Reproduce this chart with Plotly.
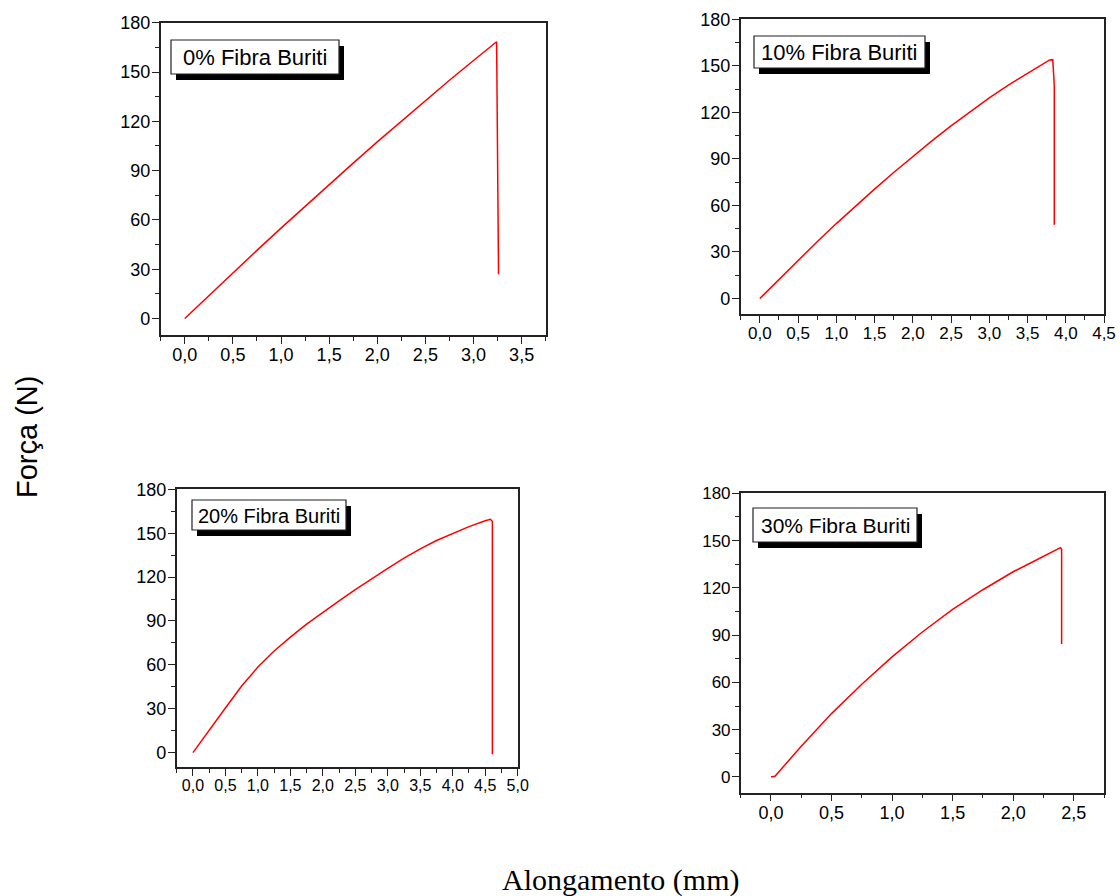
import plotly.graph_objects as go

# Load-elongation curves for composites with different buriti fibre content
fibra0_x = [0.0, 0.25, 0.5, 0.75, 1.0, 1.25, 1.5, 1.75, 2.0, 2.25, 2.5, 2.75, 3.0, 3.12, 3.24, 3.26]
fibra0_y = [0.0, 14.0, 27.8, 41.5, 55.0, 68.3, 81.5, 94.6, 107.5, 120.2, 132.8, 145.0, 157.0, 162.8, 168.4, 27.0]

fibra10_x = [0.0, 0.25, 0.5, 0.75, 1.0, 1.25, 1.5, 1.75, 2.0, 2.25, 2.5, 2.75, 3.0, 3.25,
             3.5, 3.67, 3.79, 3.83, 3.85, 3.85]
fibra10_y = [0.0, 12.4, 24.6, 36.6, 48.3, 59.5, 70.5, 81.2, 91.6, 101.6, 111.3, 120.6, 129.4, 137.6,
             145.0, 150.0, 153.8, 154.0, 137.0, 47.6]

fibra20_x = [0.0, 0.25, 0.5, 0.75, 1.0, 1.25, 1.5, 1.75, 2.0, 2.25, 2.5, 2.75, 3.0, 3.25,
             3.5, 3.75, 4.0, 4.25, 4.5, 4.58, 4.61, 4.61]
fibra20_y = [0.0, 15.5, 30.5, 45.5, 58.5, 69.5, 79.0, 87.8, 96.0, 103.8, 111.5, 119.0, 126.0, 133.0,
             139.3, 145.0, 150.0, 154.5, 158.5, 159.5, 158.0, -1.0]

fibra30_x = [0.0, 0.033, 0.25, 0.5, 0.75, 1.0, 1.25, 1.5, 1.75, 2.0, 2.2, 2.39, 2.4, 2.4]
fibra30_y = [0.0, 0.4, 19.5, 40.2, 58.8, 76.2, 92.0, 106.3, 118.8, 130.2, 138.0, 145.5, 144.5, 84.3]

labels = ["0% Fibra Buriti", "10% Fibra Buriti", "20% Fibra Buriti", "30% Fibra Buriti"]
x_ranges = [[-0.25, 3.75], [-0.25, 4.5], [-0.25, 5.0], [-0.25, 2.75]]
y_range = [-10, 180]

W, H = 1120, 896


def fx(p):
    return p / W


def fy(p):
    return 1 - p / H


# plot area of each panel in pixels: left, top, right, bottom
areas = [
    (160.7, 22.7, 545.7, 335.0),
    (740.7, 19.3, 1104.0, 314.0),
    (176.7, 489.3, 517.7, 767.3),
    (740.7, 493.3, 1104.0, 792.7),
]
# label boxes in pixels: left, top, right, bottom, font size
boxes = [
    (171, 40, 339, 74, 22),
    (754, 36, 925, 68, 22),
    (192, 500, 346, 530, 20),
    (753, 508, 917, 542, 21),
]
xtick_sizes = [18, 17, 16, 18]
ytick_sizes = [18, 18, 18, 17]

series = [(fibra0_x, fibra0_y), (fibra10_x, fibra10_y), (fibra20_x, fibra20_y), (fibra30_x, fibra30_y)]

fig = go.Figure()
axis_col = "#222222"
font_family = "Liberation Sans, Arial, sans-serif"

shapes = []
annotations = []
layout_axes = {}

for i, ((xs, ys), area, box) in enumerate(zip(series, areas, boxes)):
    n = i + 1
    sfx = "" if n == 1 else str(n)
    fig.add_trace(go.Scatter(
        x=xs, y=ys, mode="lines",
        line=dict(color="#ff0000", width=1.5),
        xaxis="x" + sfx, yaxis="y" + sfx, showlegend=False,
        hoverinfo="skip",
    ))
    l, t, r, b = area
    xdom = [fx(l), fx(r)]
    ydom = [fy(b), fy(t)]
    common_x = dict(range=x_ranges[i], dtick=0.5, tick0=0, tickformat=".1f", automargin=False)
    common_y = dict(range=y_range, dtick=30, tick0=0, automargin=False)

    layout_axes["xaxis" + sfx] = dict(
        domain=xdom, anchor="y" + sfx, **common_x,
        showline=True, linecolor=axis_col, linewidth=1.5, mirror=True,
        ticks="outside", ticklen=7, tickwidth=1.3, tickcolor=axis_col,
        ticklabelstandoff=-4,
        minor=dict(dtick=0.25, tick0=0, ticks="outside", ticklen=4,
                   tickwidth=1.3, tickcolor=axis_col),
        showgrid=False, zeroline=False,
        tickfont=dict(family=font_family, size=xtick_sizes[i], color="black"),
    )
    layout_axes["yaxis" + sfx] = dict(
        domain=ydom, anchor="x" + sfx, **common_y,
        showline=True, linecolor=axis_col, linewidth=1.5, mirror=True,
        ticks="outside", ticklen=7, tickwidth=1.3, tickcolor=axis_col,
        ticklabelstandoff=-2,
        minor=dict(dtick=15, tick0=0, ticks="outside", ticklen=4,
                   tickwidth=1.3, tickcolor=axis_col),
        showgrid=False, zeroline=False,
        tickfont=dict(family=font_family, size=ytick_sizes[i], color="black"),
    )
    # inward ticks along the top and right edges
    tn = str(n + 4)
    layout_axes["xaxis" + tn] = dict(
        overlaying="x" + sfx, side="top", anchor="y" + sfx, **common_x,
        showticklabels=False, ticks="inside", ticklen=7, tickwidth=1.3,
        tickcolor=axis_col,
        minor=dict(dtick=0.25, tick0=0, ticks="inside", ticklen=4,
                   tickwidth=1.3, tickcolor=axis_col),
        showgrid=False, zeroline=False, showline=False,
    )
    layout_axes["yaxis" + tn] = dict(
        overlaying="y" + sfx, side="right", anchor="x" + sfx, **common_y,
        showticklabels=False, ticks="inside", ticklen=7, tickwidth=1.3,
        tickcolor=axis_col,
        minor=dict(dtick=15, tick0=0, ticks="inside", ticklen=4,
                   tickwidth=1.3, tickcolor=axis_col),
        showgrid=False, zeroline=False, showline=False,
    )

    # label box with drop shadow
    bl, bt, br, bb, fs = box
    shapes.append(dict(type="rect", xref="paper", yref="paper",
                       x0=fx(bl + 5), x1=fx(br + 5), y0=fy(bb + 6), y1=fy(bt + 6),
                       fillcolor="black", line=dict(width=0)))
    shapes.append(dict(type="rect", xref="paper", yref="paper",
                       x0=fx(bl), x1=fx(br), y0=fy(bb), y1=fy(bt),
                       fillcolor="white", line=dict(color="#222222", width=1.2)))
    annotations.append(dict(
        text=labels[i], xref="paper", yref="paper",
        x=fx((bl + br) / 2), y=fy((bt + bb) / 2 + 0.5),
        xanchor="center", yanchor="middle", showarrow=False,
        font=dict(family=font_family, size=fs, color="black"),
    ))

annotations.append(dict(
    text="Força (N)", xref="paper", yref="paper",
    x=fx(27), y=fy(437), xanchor="center", yanchor="middle",
    textangle=-90, showarrow=False,
    font=dict(family=font_family, size=29, color="black"),
))
annotations.append(dict(
    text="Alongamento (mm)", xref="paper", yref="paper",
    x=fx(620), y=fy(880), xanchor="center", yanchor="middle",
    showarrow=False,
    font=dict(family="Liberation Serif, Times New Roman, serif", size=30, color="black"),
))

fig.update_layout(
    width=W, height=H,
    margin=dict(l=0, r=0, t=0, b=0, autoexpand=False),
    paper_bgcolor="white", plot_bgcolor="white",
    separators=",.",
    shapes=shapes, annotations=annotations,
    **layout_axes,
)

fig.write_html("out.html")
